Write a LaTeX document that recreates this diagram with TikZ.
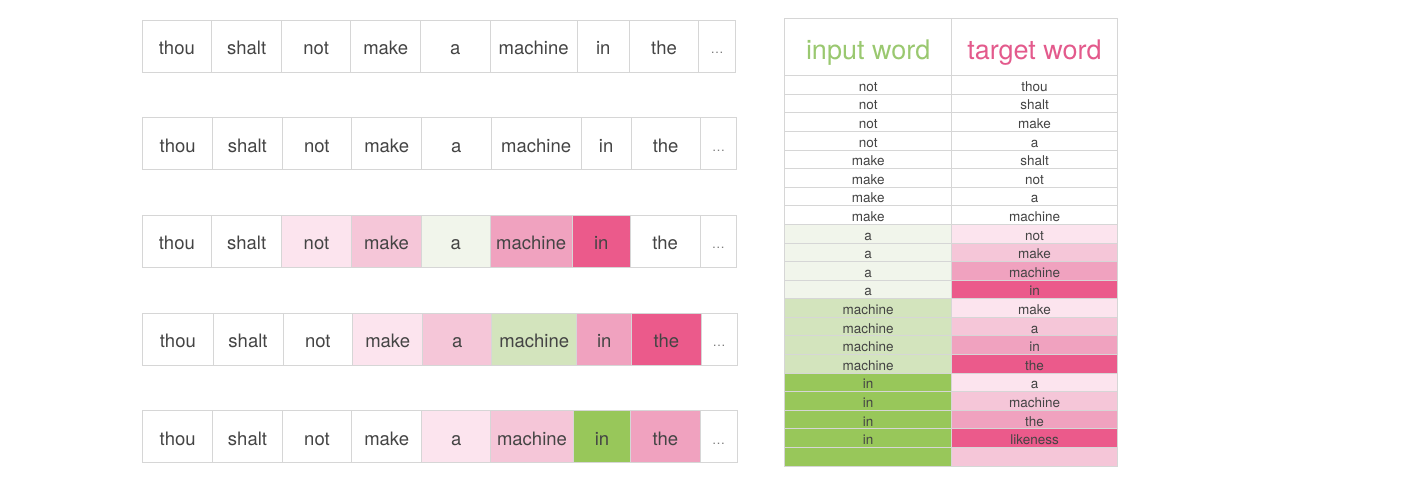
\documentclass[tikz,border=0pt]{standalone}
\usepackage{fontspec}
\setmainfont{TeX Gyre Heros}
\usetikzlibrary{positioning}
\definecolor{grid}{HTML}{D6D6D6}
\definecolor{ink}{HTML}{444444}
\definecolor{pinkA}{HTML}{FCE4EE}
\definecolor{pinkB}{HTML}{F5C6D8}
\definecolor{pinkC}{HTML}{F0A2BF}
\definecolor{pinkD}{HTML}{EB5A8B}
\definecolor{greenA}{HTML}{F1F5EB}
\definecolor{greenB}{HTML}{D3E4BD}
\definecolor{greenC}{HTML}{98C75A}
\definecolor{headgreen}{HTML}{9AC870}
\definecolor{headpink}{HTML}{E35A8C}
\begin{document}
\begin{tikzpicture}[x=1pt, y=-1pt,
    word/.style={draw=grid, line width=1pt, outer sep=0pt, inner sep=0pt,
      minimum height=52pt, text=ink, font=\fontsize{18.5}{20}\selectfont,
      text height=17.5pt, text depth=0pt},
    dots/.style={word, text=ink!70, font=\fontsize{13}{14}\selectfont, text height=15pt},
    pair/.style={draw=grid, line width=1pt, outer sep=0pt, inner sep=0pt,
      minimum height=18.59pt, text=ink, font=\fontsize{13.5}{14}\selectfont,
      text height=12.8pt, text depth=0pt},
    head/.style={pair, minimum height=57.4pt, font=\fontsize{27}{30}\selectfont,
      text height=24pt}]
  \useasboundingbox (0,0) rectangle (1420,496);

  % Sentence 1
  \node[word, anchor=north west, minimum width=69.7pt] (a1) at (142,20) {thou};
  \node[word, right=0pt of a1, minimum width=70pt] (a2) {shalt};
  \node[word, right=0pt of a2, minimum width=69pt] (a3) {not};
  \node[word, right=0pt of a3, minimum width=70pt] (a4) {make};
  \node[word, right=0pt of a4, minimum width=69.3pt] (a5) {a};
  \node[word, right=0pt of a5, minimum width=87.3pt] (a6) {machine};
  \node[word, right=0pt of a6, minimum width=52pt] (a7) {in};
  \node[word, right=0pt of a7, minimum width=69.4pt] (a8) {the};
  \node[dots, right=0pt of a8, minimum width=36.6pt] (a9) {\ldots};

  % Sentence 2
  \node[word, anchor=north west, minimum width=70pt] (b1) at (142.7,117.5) {thou};
  \node[word, right=0pt of b1, minimum width=69.3pt] (b2) {shalt};
  \node[word, right=0pt of b2, minimum width=69.7pt] (b3) {not};
  \node[word, right=0pt of b3, minimum width=70pt] (b4) {make};
  \node[word, right=0pt of b4, minimum width=69.3pt] (b5) {a};
  \node[word, right=0pt of b5, minimum width=90.3pt] (b6) {machine};
  \node[word, right=0pt of b6, minimum width=49.7pt] (b7) {in};
  \node[word, right=0pt of b7, minimum width=69.3pt] (b8) {the};
  \node[dots, right=0pt of b8, minimum width=36.4pt] (b9) {\ldots};

  % Sentence 3, input word "a"
  \node[word, anchor=north west, minimum width=69.7pt] (c1) at (142,215) {thou};
  \node[word, right=0pt of c1, minimum width=70pt] (c2) {shalt};
  \node[word, right=0pt of c2, minimum width=69.6pt, fill=pinkA] (c3) {not};
  \node[word, right=0pt of c3, minimum width=70.4pt, fill=pinkB] (c4) {make};
  \node[word, right=0pt of c4, minimum width=68.3pt, fill=greenA] (c5) {a};
  \node[word, right=0pt of c5, minimum width=82.3pt, fill=pinkC] (c6) {machine};
  \node[word, right=0pt of c6, minimum width=58pt, fill=pinkD] (c7) {in};
  \node[word, right=0pt of c7, minimum width=69.7pt] (c8) {the};
  \node[dots, right=0pt of c8, minimum width=36.7pt] (c9) {\ldots};

  % Sentence 4, input word "machine"
  \node[word, anchor=north west, minimum width=70.3pt] (d1) at (142.7,313) {thou};
  \node[word, right=0pt of d1, minimum width=70pt] (d2) {shalt};
  \node[word, right=0pt of d2, minimum width=69.7pt] (d3) {not};
  \node[word, right=0pt of d3, minimum width=70pt, fill=pinkA] (d4) {make};
  \node[word, right=0pt of d4, minimum width=69pt, fill=pinkB] (d5) {a};
  \node[word, right=0pt of d5, minimum width=85pt, fill=greenB] (d6) {machine};
  \node[word, right=0pt of d6, minimum width=55pt, fill=pinkC] (d7) {in};
  \node[word, right=0pt of d7, minimum width=69.3pt, fill=pinkD] (d8) {the};
  \node[dots, right=0pt of d8, minimum width=36.3pt] (d9) {\ldots};

  % Sentence 5, input word "in"
  \node[word, anchor=north west, minimum width=70pt] (e1) at (142.7,410.5) {thou};
  \node[word, right=0pt of e1, minimum width=69.6pt] (e2) {shalt};
  \node[word, right=0pt of e2, minimum width=69.4pt] (e3) {not};
  \node[word, right=0pt of e3, minimum width=70pt] (e4) {make};
  \node[word, right=0pt of e4, minimum width=69pt, fill=pinkA] (e5) {a};
  \node[word, right=0pt of e5, minimum width=82.6pt, fill=pinkB] (e6) {machine};
  \node[word, right=0pt of e6, minimum width=57.4pt, fill=greenC] (e7) {in};
  \node[word, right=0pt of e7, minimum width=69.3pt, fill=pinkC] (e8) {the};
  \node[dots, right=0pt of e8, minimum width=37pt] (e9) {\ldots};

  % Training pairs table
  \node[head, anchor=north west, minimum width=167pt, text=headgreen] (hin) at (784.7,18.3) {input word};
  \node[head, right=0pt of hin, minimum width=165.6pt, text=headpink] (htg) {target word};

  % input column
  \node[pair, below=0pt of hin, minimum width=167pt] (in1) {not};
  \node[pair, below=0pt of in1, minimum width=167pt] (in2) {not};
  \node[pair, below=0pt of in2, minimum width=167pt] (in3) {not};
  \node[pair, below=0pt of in3, minimum width=167pt] (in4) {not};
  \node[pair, below=0pt of in4, minimum width=167pt] (in5) {make};
  \node[pair, below=0pt of in5, minimum width=167pt] (in6) {make};
  \node[pair, below=0pt of in6, minimum width=167pt] (in7) {make};
  \node[pair, below=0pt of in7, minimum width=167pt] (in8) {make};
  \node[pair, below=0pt of in8, minimum width=167pt, fill=greenA] (in9) {a};
  \node[pair, below=0pt of in9, minimum width=167pt, fill=greenA] (in10) {a};
  \node[pair, below=0pt of in10, minimum width=167pt, fill=greenA] (in11) {a};
  \node[pair, below=0pt of in11, minimum width=167pt, fill=greenA] (in12) {a};
  \node[pair, below=0pt of in12, minimum width=167pt, fill=greenB] (in13) {machine};
  \node[pair, below=0pt of in13, minimum width=167pt, fill=greenB] (in14) {machine};
  \node[pair, below=0pt of in14, minimum width=167pt, fill=greenB] (in15) {machine};
  \node[pair, below=0pt of in15, minimum width=167pt, fill=greenB] (in16) {machine};
  \node[pair, below=0pt of in16, minimum width=167pt, fill=greenC] (in17) {in};
  \node[pair, below=0pt of in17, minimum width=167pt, fill=greenC] (in18) {in};
  \node[pair, below=0pt of in18, minimum width=167pt, fill=greenC] (in19) {in};
  \node[pair, below=0pt of in19, minimum width=167pt, fill=greenC] (in20) {in};
  \node[pair, below=0pt of in20, minimum width=167pt, fill=greenC] (in21) {};

  % target column
  \node[pair, below=0pt of htg, minimum width=165.6pt] (tg1) {thou};
  \node[pair, below=0pt of tg1, minimum width=165.6pt] (tg2) {shalt};
  \node[pair, below=0pt of tg2, minimum width=165.6pt] (tg3) {make};
  \node[pair, below=0pt of tg3, minimum width=165.6pt] (tg4) {a};
  \node[pair, below=0pt of tg4, minimum width=165.6pt] (tg5) {shalt};
  \node[pair, below=0pt of tg5, minimum width=165.6pt] (tg6) {not};
  \node[pair, below=0pt of tg6, minimum width=165.6pt] (tg7) {a};
  \node[pair, below=0pt of tg7, minimum width=165.6pt] (tg8) {machine};
  \node[pair, below=0pt of tg8, minimum width=165.6pt, fill=pinkA] (tg9) {not};
  \node[pair, below=0pt of tg9, minimum width=165.6pt, fill=pinkB] (tg10) {make};
  \node[pair, below=0pt of tg10, minimum width=165.6pt, fill=pinkC] (tg11) {machine};
  \node[pair, below=0pt of tg11, minimum width=165.6pt, fill=pinkD] (tg12) {in};
  \node[pair, below=0pt of tg12, minimum width=165.6pt, fill=pinkA] (tg13) {make};
  \node[pair, below=0pt of tg13, minimum width=165.6pt, fill=pinkB] (tg14) {a};
  \node[pair, below=0pt of tg14, minimum width=165.6pt, fill=pinkC] (tg15) {in};
  \node[pair, below=0pt of tg15, minimum width=165.6pt, fill=pinkD] (tg16) {the};
  \node[pair, below=0pt of tg16, minimum width=165.6pt, fill=pinkA] (tg17) {a};
  \node[pair, below=0pt of tg17, minimum width=165.6pt, fill=pinkB] (tg18) {machine};
  \node[pair, below=0pt of tg18, minimum width=165.6pt, fill=pinkC] (tg19) {the};
  \node[pair, below=0pt of tg19, minimum width=165.6pt, fill=pinkD] (tg20) {likeness};
  \node[pair, below=0pt of tg20, minimum width=165.6pt, fill=pinkB] (tg21) {};
\end{tikzpicture}
\end{document}
